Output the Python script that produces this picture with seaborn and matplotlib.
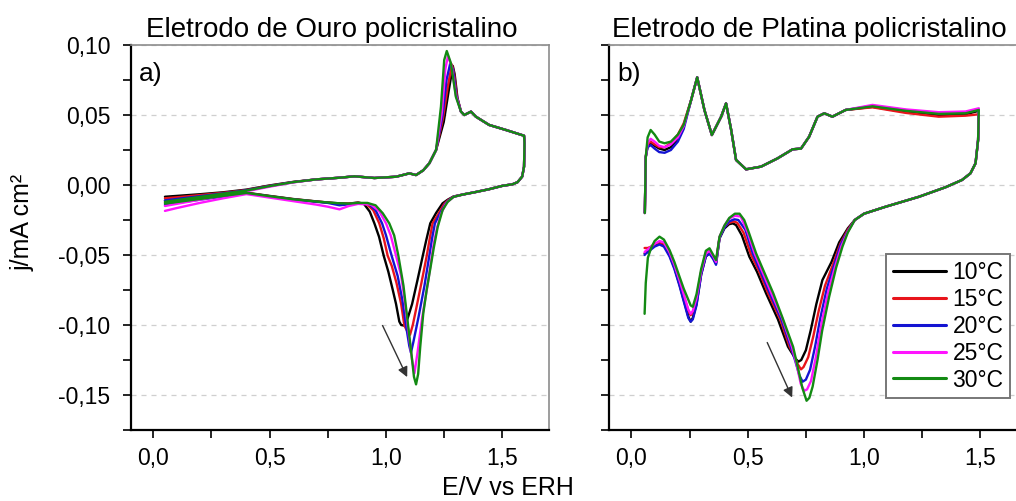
import matplotlib
matplotlib.use("Agg")
import matplotlib.pyplot as plt
import pandas as pd
import seaborn as sns

# temperatures and colours
TEMPS = ['10°C', '15°C', '20°C', '25°C', '30°C']
COLORS = ['#000000', '#e8141b', '#1414d2', '#ff14ff', '#138a13']

X_TICKS = [0.0, 0.5, 1.0, 1.5]
X_TICK_LABELS = ['0,0', '0,5', '1,0', '1,5']
Y_TICKS = [-0.15, -0.10, -0.05, 0.0, 0.05, 0.10]
Y_TICK_LABELS = ['-0,15', '-0,10', '-0,05', '0,00', '0,05', '0,10']

# ---------------- Au (gold) ----------------
AU_AN_X = [0.05, 0.1, 0.2, 0.3, 0.4, 0.5, 0.6, 0.7, 0.8]
AU_AN_Y = [
    [-0.0084, -0.0078, -0.0066, -0.0052, -0.0033, -0.0003, 0.0022, 0.0040, 0.0052],
    [-0.0095, -0.0088, -0.0072, -0.0056, -0.0036, -0.0005, 0.0021, 0.0040, 0.0052],
    [-0.0110, -0.0100, -0.0080, -0.0060, -0.0038, -0.0007, 0.0020, 0.0040, 0.0052],
    [-0.0150, -0.0135, -0.0105, -0.0075, -0.0045, -0.0012, 0.0018, 0.0040, 0.0052],
    [-0.0120, -0.0108, -0.0085, -0.0062, -0.0040, -0.0008, 0.0020, 0.0040, 0.0052],
]
AU_MID_X = [0.864, 0.95, 1.043, 1.10, 1.129, 1.16, 1.186, 1.215]
AU_MID_Y = [0.0062, 0.0050, 0.0059, 0.0083, 0.0071, 0.0105, 0.0155, 0.025]
AU_PEAK_X = [
    [1.248, 1.268, 1.287, 1.295, 1.307],
    [1.245, 1.265, 1.283, 1.292, 1.305],
    [1.243, 1.260, 1.276, 1.288, 1.302],
    [1.240, 1.255, 1.266, 1.282, 1.300],
    [1.236, 1.250, 1.261, 1.279, 1.300],
]
AU_PEAK_Y = [
    [0.045, 0.066, 0.085, 0.079, 0.062],
    [0.048, 0.070, 0.086, 0.080, 0.063],
    [0.050, 0.075, 0.087, 0.082, 0.064],
    [0.052, 0.083, 0.092, 0.085, 0.064],
    [0.056, 0.0893, 0.0957, 0.0869, 0.063],
]
AU_TOP_X = [1.322, 1.336, 1.365, 1.386, 1.443, 1.515, 1.593,
            1.595, 1.593, 1.585, 1.565, 1.543, 1.50, 1.443, 1.38, 1.33]
AU_TOP_Y = [0.0524, 0.050, 0.0524, 0.0488, 0.0429, 0.0393, 0.0352,
            0.030, 0.0131, 0.006, 0.002, 0.0005, -0.0006, -0.0030, -0.0052, -0.0068]
AU_CAT_X = [
    [1.29, 1.265, 1.243, 1.215, 1.19, 1.172, 1.158, 1.135, 1.112, 1.093, 1.08, 1.065,
     1.057, 1.043, 1.029, 1.01, 0.99, 0.97, 0.95, 0.93, 0.905, 0.88, 0.84, 0.8],
    [1.29, 1.265, 1.25, 1.22, 1.20, 1.188, 1.175, 1.152, 1.13, 1.115, 1.103, 1.09,
     1.079, 1.065, 1.045, 1.025, 1.007, 0.99, 0.971, 0.945, 0.915, 0.88, 0.84, 0.8],
    [1.29, 1.265, 1.255, 1.23, 1.21, 1.198, 1.186, 1.165, 1.14, 1.117, 1.107, 1.1,
     1.086, 1.07, 1.05, 1.024, 1.0, 0.983, 0.955, 0.925, 0.88, 0.84, 0.8],
    [1.29, 1.265, 1.255, 1.235, 1.22, 1.205, 1.197, 1.18, 1.155, 1.135, 1.122, 1.112,
     1.093, 1.08, 1.065, 1.043, 1.02, 1.0, 0.97, 0.935, 0.88, 0.84, 0.8],
    [1.29, 1.265, 1.243, 1.222, 1.205, 1.19, 1.175, 1.16, 1.147, 1.138, 1.129, 1.12,
     1.11, 1.095, 1.075, 1.053, 1.035, 1.014, 0.986, 0.955, 0.92, 0.88, 0.84, 0.8],
]
AU_CAT_Y = [
    [-0.0082, -0.0105, -0.0131, -0.020, -0.0274, -0.040, -0.0505, -0.068, -0.085, -0.0952, -0.1005, -0.1,
     -0.0975, -0.085, -0.075, -0.062, -0.0505, -0.037, -0.0274, -0.019, -0.0135, -0.0125, -0.0133, -0.0131],
    [-0.0083, -0.011, -0.0135, -0.022, -0.0274, -0.038, -0.0505, -0.070, -0.088, -0.1, -0.107, -0.104,
     -0.1005, -0.085, -0.07, -0.058, -0.0505, -0.038, -0.0274, -0.018, -0.0135, -0.0127, -0.0133, -0.0135],
    [-0.0084, -0.0115, -0.0135, -0.021, -0.0274, -0.038, -0.0505, -0.072, -0.094, -0.1125, -0.1198, -0.115,
     -0.1005, -0.082, -0.065, -0.0505, -0.036, -0.0274, -0.018, -0.0135, -0.013, -0.0138, -0.0145],
    [-0.0085, -0.012, -0.014, -0.021, -0.03, -0.042, -0.0505, -0.07, -0.095, -0.12, -0.1345, -0.125,
     -0.1005, -0.082, -0.065, -0.0505, -0.036, -0.0274, -0.0185, -0.014, -0.0135, -0.015, -0.0174],
    [-0.0085, -0.012, -0.0179, -0.030, -0.045, -0.060, -0.0745, -0.0917, -0.1155, -0.135, -0.1424, -0.137,
     -0.122, -0.1005, -0.072, -0.0505, -0.036, -0.0274, -0.0202, -0.0145, -0.0128, -0.0128, -0.0133, -0.0131],
]
AU_TAIL_X = [0.75, 0.7, 0.6, 0.5, 0.4, 0.3, 0.2, 0.1, 0.05]
AU_TAIL_Y = [
    [-0.0125, -0.0117, -0.0100, -0.0078, -0.0055, -0.0070, -0.0088, -0.0104, -0.0112],
    [-0.0125, -0.0118, -0.0101, -0.0080, -0.0057, -0.0075, -0.0095, -0.0115, -0.0125],
    [-0.0128, -0.0120, -0.0103, -0.0082, -0.0060, -0.0082, -0.0105, -0.0128, -0.0142],
    [-0.0155, -0.0140, -0.0115, -0.0090, -0.0065, -0.0095, -0.0128, -0.0165, -0.0185],
    [-0.0125, -0.0118, -0.0102, -0.0080, -0.0057, -0.0078, -0.0100, -0.0122, -0.0133],
]

# ---------------- Pt (platinum) ----------------
PT_AN_X = [0.058, 0.062, 0.07, 0.083, 0.1, 0.12, 0.143, 0.17, 0.2, 0.225]
PT_AN_Y = [
    [-0.02, 0.02, 0.028, 0.0300, 0.028, 0.026, 0.025, 0.027, 0.033, 0.042],
    [-0.02, 0.02, 0.029, 0.0310, 0.029, 0.027, 0.027, 0.030, 0.036, 0.044],
    [-0.02, 0.02, 0.027, 0.0285, 0.026, 0.0235, 0.023, 0.025, 0.031, 0.040],
    [-0.02, 0.02, 0.030, 0.0330, 0.031, 0.028, 0.027, 0.029, 0.034, 0.042],
    [-0.02, 0.02, 0.034, 0.0393, 0.036, 0.031, 0.0298, 0.031, 0.036, 0.043],
]
PT_MID_X = [0.257, 0.283, 0.314, 0.346, 0.386, 0.407, 0.429, 0.45, 0.493, 0.557, 0.628,
            0.693, 0.729, 0.764, 0.8, 0.829, 0.864, 0.921]
PT_MID_Y = [0.0607, 0.0769, 0.0536, 0.0357, 0.0488, 0.0583, 0.0393, 0.0179, 0.0112, 0.0131, 0.0190,
            0.0255, 0.026, 0.0345, 0.0488, 0.0512, 0.0488, 0.0536]
PT_PLAT_X = [1.036, 1.179, 1.321, 1.436, 1.493]
PT_PLAT_Y = [
    [0.0558, 0.0522, 0.0500, 0.0505, 0.0530],
    [0.0555, 0.0515, 0.0488, 0.0495, 0.0505],
    [0.0566, 0.0535, 0.0512, 0.0518, 0.0540],
    [0.0572, 0.0540, 0.0520, 0.0525, 0.0548],
    [0.0562, 0.0530, 0.0508, 0.0512, 0.0536],
]
PT_TOP_X = [1.49, 1.479, 1.457, 1.421, 1.35, 1.236, 1.093, 1.0, 0.96]
PT_TOP_Y = [0.0321, 0.0155, 0.0083, 0.0036, -0.0016, -0.0084, -0.0155, -0.0205, -0.025]
PT_CAT_X = [
    [0.93, 0.893, 0.86, 0.821, 0.795, 0.771, 0.75, 0.73, 0.718, 0.705, 0.69, 0.673, 0.63,
     0.579, 0.54, 0.507, 0.475, 0.45, 0.436, 0.42, 0.40, 0.379],
    [0.93, 0.898, 0.868, 0.832, 0.805, 0.782, 0.76, 0.74, 0.729, 0.715, 0.70, 0.68, 0.64,
     0.588, 0.55, 0.515, 0.482, 0.455, 0.44, 0.42, 0.40, 0.379],
    [0.93, 0.90, 0.872, 0.840, 0.812, 0.79, 0.768, 0.75, 0.736, 0.722, 0.705, 0.685, 0.645,
     0.595, 0.556, 0.522, 0.49, 0.46, 0.443, 0.42, 0.40, 0.379],
    [0.93, 0.903, 0.876, 0.845, 0.816, 0.794, 0.772, 0.755, 0.743, 0.728, 0.71, 0.69, 0.648,
     0.602, 0.563, 0.53, 0.498, 0.47, 0.445, 0.42, 0.40, 0.379],
    [0.93, 0.907, 0.88, 0.85, 0.82, 0.80, 0.779, 0.765, 0.753, 0.735, 0.715, 0.695, 0.65,
     0.61, 0.57, 0.536, 0.505, 0.485, 0.465, 0.445, 0.421, 0.40, 0.379],
]
PT_CAT_Y = [
    [-0.031, -0.041, -0.055, -0.0679, -0.085, -0.1036, -0.118, -0.125, -0.1262, -0.124, -0.12, -0.1155, -0.096,
     -0.0774, -0.062, -0.0512, -0.036, -0.0286, -0.0274, -0.028, -0.031, -0.038],
    [-0.032, -0.042, -0.056, -0.0720, -0.090, -0.108, -0.123, -0.130, -0.1317, -0.128, -0.122, -0.1155, -0.096,
     -0.0774, -0.062, -0.050, -0.034, -0.027, -0.026, -0.027, -0.030, -0.0375],
    [-0.033, -0.0425, -0.057, -0.0740, -0.095, -0.115, -0.132, -0.139, -0.1405, -0.136, -0.126, -0.1155, -0.096,
     -0.0774, -0.062, -0.049, -0.032, -0.025, -0.0245, -0.026, -0.0305, -0.038],
    [-0.0335, -0.0435, -0.058, -0.077, -0.100, -0.122, -0.140, -0.146, -0.147, -0.142, -0.128, -0.1155, -0.095,
     -0.0774, -0.062, -0.049, -0.033, -0.0225, -0.022, -0.024, -0.029, -0.037],
    [-0.034, -0.0441, -0.059, -0.0798, -0.104, -0.125, -0.144, -0.152, -0.1541, -0.145, -0.13, -0.1155, -0.095,
     -0.0774, -0.062, -0.0488, -0.034, -0.025, -0.0205, -0.0205, -0.0235, -0.029, -0.0369],
]
PT_LOW_X = [0.364, 0.352, 0.336, 0.32, 0.30, 0.28, 0.264, 0.255, 0.245, 0.225, 0.207, 0.185,
            0.164, 0.14, 0.121, 0.10, 0.085, 0.071, 0.062, 0.057]
PT_LOW_Y = [
    [-0.056, -0.052, -0.0488, -0.051, -0.064, -0.085, -0.095, -0.0976, -0.094, -0.082, -0.071, -0.059,
     -0.050, -0.043, -0.0417, -0.043, -0.045, -0.047, -0.048, -0.049],
    [-0.055, -0.051, -0.047, -0.049, -0.062, -0.082, -0.091, -0.093, -0.090, -0.079, -0.069, -0.057,
     -0.048, -0.042, -0.041, -0.042, -0.044, -0.045, -0.045, -0.045],
    [-0.057, -0.053, -0.049, -0.051, -0.064, -0.086, -0.096, -0.0976, -0.095, -0.083, -0.072, -0.060,
     -0.051, -0.044, -0.0425, -0.044, -0.046, -0.048, -0.049, -0.050],
    [-0.055, -0.051, -0.047, -0.049, -0.062, -0.081, -0.090, -0.092, -0.089, -0.078, -0.068, -0.057,
     -0.048, -0.041, -0.040, -0.042, -0.044, -0.046, -0.047, -0.048],
    [-0.0536, -0.050, -0.0452, -0.047, -0.060, -0.078, -0.087, -0.086, -0.082, -0.074, -0.0655, -0.055,
     -0.0464, -0.039, -0.0369, -0.040, -0.045, -0.052, -0.070, -0.092],
]


def build_frame(pieces_per_temp):
    rows = []
    for temp, pieces in zip(TEMPS, pieces_per_temp):
        for xs, ys in pieces:
            for x, y in zip(xs, ys):
                rows.append({'E': x, 'j': y, 'T': temp})
    return pd.DataFrame(rows)


au_df = build_frame([
    [(AU_AN_X, AU_AN_Y[i]), (AU_MID_X, AU_MID_Y), (AU_PEAK_X[i], AU_PEAK_Y[i]),
     (AU_TOP_X, AU_TOP_Y), (AU_CAT_X[i], AU_CAT_Y[i]), (AU_TAIL_X, AU_TAIL_Y[i])]
    for i in range(5)])
pt_df = build_frame([
    [(PT_AN_X, PT_AN_Y[i]), (PT_MID_X, PT_MID_Y), (PT_PLAT_X, PT_PLAT_Y[i]),
     (PT_TOP_X, PT_TOP_Y), (PT_CAT_X[i], PT_CAT_Y[i]), (PT_LOW_X, PT_LOW_Y[i])]
    for i in range(5)])

sns.set_style('ticks')
plt.rcParams['font.family'] = ['Liberation Sans', 'DejaVu Sans']
plt.rcParams['text.color'] = 'black'

fig = plt.figure(figsize=(10.16, 5.01), dpi=100)
ax1 = fig.add_axes([0.1289, 0.1417, 0.4114, 0.7685])
ax2 = fig.add_axes([0.5994, 0.1417, 0.4114, 0.7685])
palette = dict(zip(TEMPS, COLORS))

for ax, df, title, tag, show_leg in [
        (ax1, au_df, 'Eletrodo de Ouro policristalino', 'a)', False),
        (ax2, pt_df, 'Eletrodo de Platina policristalino', 'b)', True)]:
    ax.set_axisbelow(True)
    ax.grid(axis='y', color='#cfcfcf', ls=(0, (4, 4)), lw=0.9)
    sns.lineplot(data=df, x='E', y='j', hue='T', palette=palette, sort=False,
                 estimator=None, lw=1.7, ax=ax, legend=show_leg)
    ax.set_xlim(-0.096, 1.70)
    ax.set_ylim(-0.175, 0.10)
    ax.set_xticks(X_TICKS)
    ax.set_xticks([0.25, 0.75, 1.25], minor=True)
    ax.set_yticks(Y_TICKS)
    ax.set_yticks([-0.175, -0.125, -0.075, -0.025, 0.025, 0.075], minor=True)
    ax.set_xticklabels(X_TICK_LABELS)
    ax.tick_params(which='both', direction='out', length=6, width=1.2, labelsize=16.5,
                   colors='black', bottom=True, left=True)
    ax.tick_params(axis='y', pad=9)
    ax.tick_params(axis='x', pad=6)
    ax.set_xlabel('')
    ax.set_ylabel('')
    for side in ['left', 'bottom']:
        ax.spines[side].set_color('black')
        ax.spines[side].set_linewidth(1.6)
    for side in ['top', 'right']:
        ax.spines[side].set_visible(True)
        ax.spines[side].set_color('#8c8c8c')
        ax.spines[side].set_linewidth(1.2)
    ax.set_title(title, fontsize=20, pad=6, x=0.48, color='black')
    ax.text(0.02, 0.955, tag, transform=ax.transAxes, fontsize=19, va='top', ha='left')

ax1.set_yticklabels(Y_TICK_LABELS)
ax2.set_yticklabels([])

ax1.annotate('', xy=(1.096, -0.139), xytext=(0.98, -0.0986),
             arrowprops=dict(arrowstyle='-|>', color='#333333', lw=1.0, mutation_scale=15))
ax2.annotate('', xy=(0.696, -0.1536), xytext=(0.579, -0.1107),
             arrowprops=dict(arrowstyle='-|>', color='#333333', lw=1.0, mutation_scale=15))

leg = ax2.legend(loc='upper left', bbox_to_anchor=(0.663, 0.457), fontsize=16.5,
                 handlelength=2.3, handletextpad=0.3, labelspacing=0.17,
                 borderpad=0.3, borderaxespad=0, fancybox=False, framealpha=1)
leg.get_frame().set_edgecolor('#777777')
leg.get_frame().set_linewidth(1.4)
for line in leg.get_lines():
    line.set_linewidth(2.2)
for t in leg.get_texts():
    t.set_color('black')

fig.text(0.5, 0.025, 'E/V vs ERH', ha='center', va='center', fontsize=18)
fig.text(0.022, 0.557, 'j/mA cm²', ha='center', va='center', rotation=90, fontsize=18)

fig.savefig('out.png', dpi=100)
